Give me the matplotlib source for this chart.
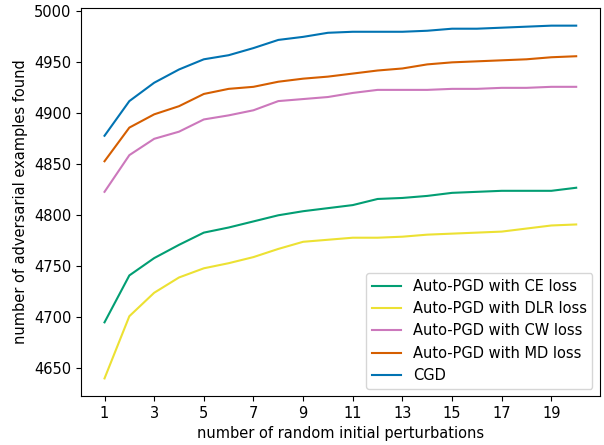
import matplotlib
matplotlib.use('Agg')
import matplotlib.pyplot as plt

perturbations = list(range(1, 21))

ce_loss = [4695, 4741, 4758, 4771, 4783, 4788, 4794, 4800, 4804, 4807,
           4810, 4816, 4817, 4819, 4822, 4823, 4824, 4824, 4824, 4827]
dlr_loss = [4640, 4701, 4724, 4739, 4748, 4753, 4759, 4767, 4774, 4776,
            4778, 4778, 4779, 4781, 4782, 4783, 4784, 4787, 4790, 4791]
cw_loss = [4823, 4859, 4875, 4882, 4894, 4898, 4903, 4912, 4914, 4916,
           4920, 4923, 4923, 4923, 4924, 4924, 4925, 4925, 4926, 4926]
md_loss = [4853, 4886, 4899, 4907, 4919, 4924, 4926, 4931, 4934, 4936,
           4939, 4942, 4944, 4948, 4950, 4951, 4952, 4953, 4955, 4956]
cgd = [4878, 4912, 4930, 4943, 4953, 4957, 4964, 4972, 4975, 4979,
       4980, 4980, 4980, 4981, 4983, 4983, 4984, 4985, 4986, 4986]

plt.rcParams['font.size'] = 10.5

fig = plt.figure(figsize=(6.04, 4.45), dpi=100)
ax = fig.add_axes([0.134, 0.110, 0.859, 0.872])

ax.plot(perturbations, ce_loss, color='#029e73', label='Auto-PGD with CE loss')
ax.plot(perturbations, dlr_loss, color='#ece133', label='Auto-PGD with DLR loss')
ax.plot(perturbations, cw_loss, color='#cc78bc', label='Auto-PGD with CW loss')
ax.plot(perturbations, md_loss, color='#d55e00', label='Auto-PGD with MD loss')
ax.plot(perturbations, cgd, color='#0173b2', label='CGD')

ax.set_xticks(range(1, 21, 2))
ax.set_xlabel('number of random initial perturbations')
ax.set_ylabel('number of adversarial examples found')
ax.legend(loc='lower right')

fig.savefig('out.png', dpi=100)
